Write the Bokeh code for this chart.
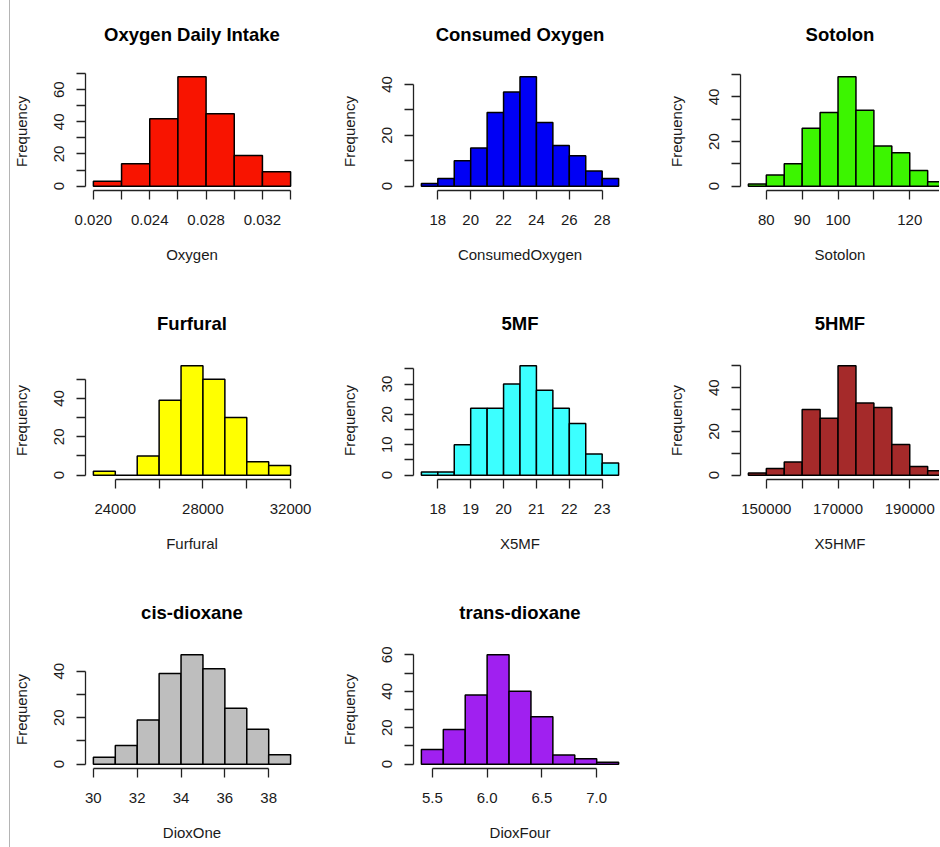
from bokeh.plotting import figure
from bokeh.models import FixedTicker, CustomJSTickFormatter, Range1d, LinearAxis, InlineStyleSheet
from bokeh.layouts import gridplot
from bokeh.embed import file_html
from bokeh.resources import INLINE

# ---------------- data ----------------
titles = ["Oxygen Daily Intake", "Consumed Oxygen", "Sotolon",
          "Furfural", "5MF", "5HMF", "cis-dioxane", "trans-dioxane"]
xnames = ["Oxygen", "ConsumedOxygen", "Sotolon",
          "Furfural", "X5MF", "X5HMF", "DioxOne", "DioxFour"]
colors = ["#f81400", "#0000f5", "#3cf500", "#ffff00",
          "#3cffff", "#a52a2a", "#bebebe", "#a020f0"]

oxygen_breaks = [0.020, 0.022, 0.024, 0.026, 0.028, 0.030, 0.032, 0.034]
oxygen_counts = [3, 14, 42, 68, 45, 19, 9]
oxygen_xticks = [0.020, 0.022, 0.024, 0.026, 0.028, 0.030, 0.032, 0.034]
oxygen_xlabels = ["0.020", "", "0.024", "", "0.028", "", "0.032", ""]
oxygen_yticks = [0, 10, 20, 30, 40, 50, 60, 70]
oxygen_ylabels = ["0", "", "20", "", "40", "", "60", ""]

consumed_breaks = [17, 18, 19, 20, 21, 22, 23, 24, 25, 26, 27, 28, 29]
consumed_counts = [1, 3, 10, 15, 29, 37, 43, 25, 16, 12, 6, 3]
consumed_xticks = [18, 20, 22, 24, 26, 28]
consumed_xlabels = ["18", "20", "22", "24", "26", "28"]
consumed_yticks = [0, 10, 20, 30, 40]
consumed_ylabels = ["0", "", "20", "", "40"]

sotolon_breaks = [75, 80, 85, 90, 95, 100, 105, 110, 115, 120, 125, 130]
sotolon_counts = [1, 5, 10, 26, 33, 49, 34, 18, 15, 7, 2]
sotolon_xticks = [80, 90, 100, 110, 120, 130]
sotolon_xlabels = ["80", "90", "100", "", "120", ""]
sotolon_yticks = [0, 10, 20, 30, 40, 50]
sotolon_ylabels = ["0", "", "20", "", "40", ""]

furfural_breaks = [23000, 24000, 25000, 26000, 27000, 28000, 29000, 30000, 31000, 32000]
furfural_counts = [2, 0, 10, 39, 57, 50, 30, 7, 5]
furfural_xticks = [24000, 26000, 28000, 30000, 32000]
furfural_xlabels = ["24000", "", "28000", "", "32000"]
furfural_yticks = [0, 10, 20, 30, 40, 50]
furfural_ylabels = ["0", "", "20", "", "40", ""]

x5mf_breaks = [17.5, 18.0, 18.5, 19.0, 19.5, 20.0, 20.5, 21.0, 21.5, 22.0, 22.5, 23.0, 23.5]
x5mf_counts = [1, 1, 10, 22, 22, 30, 36, 28, 22, 17, 7, 4]
x5mf_xticks = [18, 19, 20, 21, 22, 23]
x5mf_xlabels = ["18", "19", "20", "21", "22", "23"]
x5mf_yticks = [0, 5, 10, 15, 20, 25, 30, 35]
x5mf_ylabels = ["0", "", "10", "", "20", "", "30", ""]

x5hmf_breaks = [145000, 150000, 155000, 160000, 165000, 170000, 175000,
                180000, 185000, 190000, 195000, 200000]
x5hmf_counts = [1, 3, 6, 30, 26, 50, 33, 31, 14, 4, 2]
x5hmf_xticks = [150000, 160000, 170000, 180000, 190000, 200000]
x5hmf_xlabels = ["150000", "", "170000", "", "190000", ""]
x5hmf_yticks = [0, 10, 20, 30, 40, 50]
x5hmf_ylabels = ["0", "", "20", "", "40", ""]

dioxone_breaks = [30, 31, 32, 33, 34, 35, 36, 37, 38, 39]
dioxone_counts = [3, 8, 19, 39, 47, 41, 24, 15, 4]
dioxone_xticks = [30, 32, 34, 36, 38]
dioxone_xlabels = ["30", "32", "34", "36", "38"]
dioxone_yticks = [0, 10, 20, 30, 40]
dioxone_ylabels = ["0", "", "20", "", "40"]

dioxfour_breaks = [5.4, 5.6, 5.8, 6.0, 6.2, 6.4, 6.6, 6.8, 7.0, 7.2]
dioxfour_counts = [8, 19, 38, 60, 40, 26, 5, 3, 1]
dioxfour_xticks = [5.5, 6.0, 6.5, 7.0]
dioxfour_xlabels = ["5.5", "6.0", "6.5", "7.0"]
dioxfour_yticks = [0, 10, 20, 30, 40, 50, 60]
dioxfour_ylabels = ["0", "", "20", "", "40", "", "60"]

panels = [
    (oxygen_breaks, oxygen_counts, oxygen_xticks, oxygen_xlabels, oxygen_yticks, oxygen_ylabels),
    (consumed_breaks, consumed_counts, consumed_xticks, consumed_xlabels, consumed_yticks, consumed_ylabels),
    (sotolon_breaks, sotolon_counts, sotolon_xticks, sotolon_xlabels, sotolon_yticks, sotolon_ylabels),
    (furfural_breaks, furfural_counts, furfural_xticks, furfural_xlabels, furfural_yticks, furfural_ylabels),
    (x5mf_breaks, x5mf_counts, x5mf_xticks, x5mf_xlabels, x5mf_yticks, x5mf_ylabels),
    (x5hmf_breaks, x5hmf_counts, x5hmf_xticks, x5hmf_xlabels, x5hmf_yticks, x5hmf_ylabels),
    (dioxone_breaks, dioxone_counts, dioxone_xticks, dioxone_xlabels, dioxone_yticks, dioxone_ylabels),
    (dioxfour_breaks, dioxfour_counts, dioxfour_xticks, dioxfour_xlabels, dioxfour_yticks, dioxfour_ylabels),
]

# ---------------- layout ----------------
FONT = "Liberation Sans"
FULL_FRAME_W = 213
FRAME_H = 118
LEFT = 85
TOP = 72
col_widths = [328, 327, 284]
row_heights = [289, 289, 269]

FMT_CODE = """
for (let i = 0; i < tvals.length; i++) {
    if (Math.abs(tvals[i] - tick) <= 1e-9 * Math.max(1, Math.abs(tick))) return tlabels[i];
}
return '';
"""


def style_axis(ax, tvals, tlabels, vertical):
    ax.ticker = FixedTicker(ticks=tvals, minor_ticks=[])
    ax.formatter = CustomJSTickFormatter(args=dict(tvals=tvals, tlabels=tlabels), code=FMT_CODE)
    ax.bounds = (tvals[0], tvals[-1])
    ax.axis_line_color = "#222222"
    ax.axis_line_width = 1.3
    ax.major_tick_line_color = "#222222"
    ax.major_tick_line_width = 1.3
    ax.major_tick_out = 9
    ax.major_tick_in = 0
    ax.minor_tick_out = 0
    ax.minor_tick_in = 0
    ax.major_label_text_font = FONT
    ax.major_label_text_font_size = "15px"
    ax.major_label_text_color = "#1a1a1a"
    ax.axis_label_text_font = FONT
    ax.axis_label_text_font_size = "15px"
    ax.axis_label_text_font_style = "normal"
    ax.axis_label_text_color = "#1a1a1a"
    if vertical:
        ax.major_label_orientation = "vertical"
        ax.major_label_standoff = 12
        ax.axis_label_standoff = 22
    else:
        ax.major_label_standoff = 15
        ax.axis_label_standoff = 18


figs = []
for i, (breaks, counts, xt, xl, yt, yl) in enumerate(panels):
    r, c = divmod(i, 3)
    w = col_widths[c]
    h = row_heights[r]
    frame_w = min(FULL_FRAME_W, w - LEFT)
    right = w - LEFT - frame_w
    bottom = h - TOP - FRAME_H
    span = breaks[-1] - breaks[0]
    x0 = breaks[0] - 0.04 * span
    x1_full = breaks[-1] + 0.04 * span
    x1 = x0 + (x1_full - x0) * frame_w / FULL_FRAME_W
    ymax = max(counts)
    p = figure(width=w, height=h, output_backend="svg", toolbar_location=None,
               x_range=Range1d(x0, x1), y_range=Range1d(-0.04 * ymax, 1.04 * ymax),
               min_border_left=LEFT, min_border_right=right,
               min_border_top=TOP, min_border_bottom=bottom,
               outline_line_color=None, background_fill_color="white",
               border_fill_color="white")
    p.quad(left=breaks[:-1], right=breaks[1:], bottom=0, top=counts,
           fill_color=colors[i], line_color="black", line_width=1.5)
    p.xgrid.visible = False
    p.ygrid.visible = False
    bax = p.below[0]
    lax = p.left[0]
    bax.axis_label = xnames[i]
    lax.axis_label = "Frequency"
    style_axis(bax, xt, xl, False)
    style_axis(lax, yt, yl, True)
    # panel title drawn as the label of an otherwise empty top axis
    tax = LinearAxis(ticker=FixedTicker(ticks=[], minor_ticks=[]),
                     axis_line_color=None, major_tick_line_color=None,
                     minor_tick_line_color=None, major_tick_out=0, major_tick_in=0,
                     minor_tick_out=0, minor_tick_in=0, major_label_standoff=0,
                     axis_label=titles[i], axis_label_standoff=28,
                     axis_label_text_font=FONT, axis_label_text_font_size="18.5px",
                     axis_label_text_font_style="bold", axis_label_text_color="black")
    p.add_layout(tax, "above")
    figs.append(p)

grid = gridplot([[figs[0], figs[1], figs[2]],
                 [figs[3], figs[4], figs[5]],
                 [figs[6], figs[7], None]], toolbar_location=None)
grid.stylesheets = [InlineStyleSheet(css=(
    ":host::after { content: ''; position: absolute; left: 9px; top: 0; "
    "height: 847px; width: 1px; background: #b4b4b4; pointer-events: none; z-index: 10; }"))]

open("out.html", "w").write(file_html(grid, INLINE))
